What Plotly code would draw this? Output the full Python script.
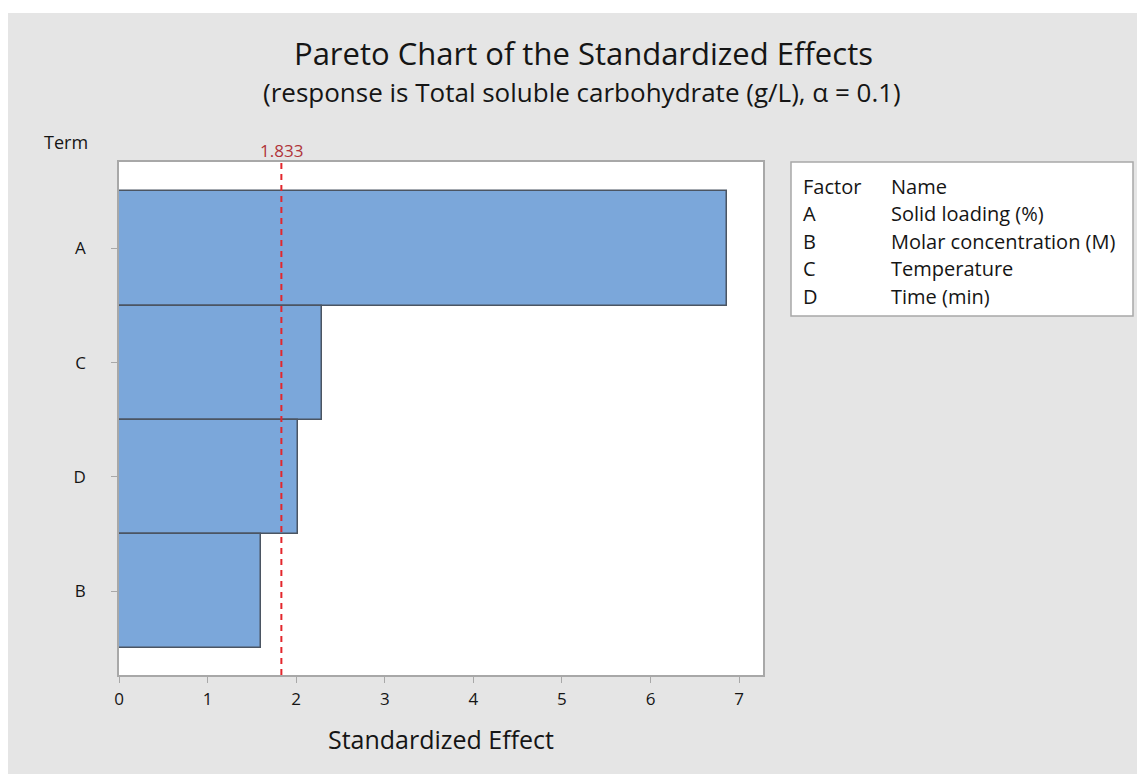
import plotly.graph_objects as go

# ---- data ----
terms = ["A", "C", "D", "B"]
effects = [6.86, 2.29, 2.02, 1.60]
ref_value = 1.833
ref_label = "1.833"
factors = ["A", "B", "C", "D"]
factor_names = ["Solid loading (%)", "Molar concentration (M)", "Temperature", "Time (min)"]
x_ticks = [0, 1, 2, 3, 4, 5, 6, 7]

title_text = "Pareto Chart of the Standardized Effects"
subtitle_text = "(response is Total soluble carbohydrate (g/L), \u03b1 = 0.1)"

OFF = 8  # browser body margin
W, H = 1145 - OFF, 774 - OFF
L, R, T, B = 119 - OFF, 382, 162 - OFF, 99
PW = W - L - R
PH = H - T - B

def px_x(x):
    # x in page pixels -> paper coordinate
    return (x - OFF - L) / PW

def px_y(y):
    return (H - B - (y - OFF)) / PH

FONT = "Open Sans"
GREY_BG = "#E5E5E5"
TXT = "#151515"

fig = go.Figure()
fig.add_trace(go.Bar(
    x=effects, y=terms, orientation="h",
    width=1.0,
    marker=dict(color="#7BA7DA", line=dict(color="#4B5562", width=1.5)),
    showlegend=False, hoverinfo="x+y",
))

fig.add_shape(type="line", xref="x", yref="paper", x0=ref_value, x1=ref_value, y0=0, y1=1,
              line=dict(color="#E3262C", width=2, dash="6px,5px"), layer="above")

annotations = [
    dict(text=title_text, x=px_x(583), y=px_y(53), xref="paper", yref="paper",
         showarrow=False, xanchor="center", yanchor="middle",
         font=dict(family=FONT, size=31, color=TXT)),
    dict(text=subtitle_text, x=px_x(582), y=px_y(92), xref="paper", yref="paper",
         showarrow=False, xanchor="center", yanchor="middle",
         font=dict(family=FONT, size=26, color=TXT)),
    dict(text="Term", x=px_x(66), y=px_y(142), xref="paper", yref="paper",
         showarrow=False, xanchor="center", yanchor="middle",
         font=dict(family=FONT, size=18, color=TXT)),
    dict(text=ref_label, x=ref_value, y=px_y(150), xref="x", yref="paper",
         showarrow=False, xanchor="center", yanchor="middle",
         font=dict(family=FONT, size=17, color="#B0343A")),
]

# factor legend box
fig.add_shape(type="rect", xref="paper", yref="paper",
              x0=px_x(791), x1=px_x(1133), y0=px_y(316), y1=px_y(162),
              line=dict(color="#A8A8A8", width=1.5), fillcolor="white", layer="below")
row_y = [186, 213.5, 241, 268.5, 296]
col_x = [801, 889]
header = ["Factor", "Name"]
LEG_SIZE = 20
for j in range(2):
    annotations.append(dict(text=header[j], x=px_x(col_x[j]), y=px_y(row_y[0]), xref="paper", yref="paper",
                            showarrow=False, xanchor="left", yanchor="middle",
                            font=dict(family=FONT, size=LEG_SIZE, color=TXT)))
for i, (f, n) in enumerate(zip(factors, factor_names)):
    annotations.append(dict(text=f, x=px_x(col_x[0]), y=px_y(row_y[i + 1]), xref="paper", yref="paper",
                            showarrow=False, xanchor="left", yanchor="middle",
                            font=dict(family=FONT, size=LEG_SIZE, color=TXT)))
    annotations.append(dict(text=n, x=px_x(col_x[1]), y=px_y(row_y[i + 1]), xref="paper", yref="paper",
                            showarrow=False, xanchor="left", yanchor="middle",
                            font=dict(family=FONT, size=LEG_SIZE, color=TXT)))

# extra white strip at the top edge (page y 8..13)
fig.add_shape(type="rect", xref="paper", yref="paper", x0=px_x(0), x1=px_x(1145), y0=px_y(13), y1=px_y(OFF),
              line=dict(width=0), fillcolor="white", layer="below")

fig.update_layout(
    width=W, height=H,
    margin=dict(l=L, r=R, t=T, b=B, pad=0),
    paper_bgcolor=GREY_BG, plot_bgcolor="white",
    bargap=0,
    annotations=annotations,
    font=dict(family=FONT, color=TXT),
)
fig.update_xaxes(
    range=[0, 7.27], tickvals=x_ticks, ticktext=[str(v) for v in x_ticks],
    showgrid=False, zeroline=False,
    showline=True, mirror=True, linecolor="#A8A8A8", linewidth=1.5,
    ticks="outside", ticklen=6, tickcolor="#A8A8A8", tickwidth=1,
    tickfont=dict(family=FONT, size=17, color=TXT),
    ticklabelstandoff=2,
    title=dict(text="Standardized Effect", font=dict(family=FONT, size=25, color=TXT), standoff=22),
)
fig.update_yaxes(
    categoryorder="array", categoryarray=terms,
    range=[3.735, -0.757],
    showgrid=False, zeroline=False,
    showline=True, mirror=True, linecolor="#A8A8A8", linewidth=1.5,
    ticks="outside", ticklen=6, tickcolor="#A8A8A8", tickwidth=1,
    tickfont=dict(family=FONT, size=17, color=TXT),
    ticklabelstandoff=22,
)

fig.write_html("out.html")
